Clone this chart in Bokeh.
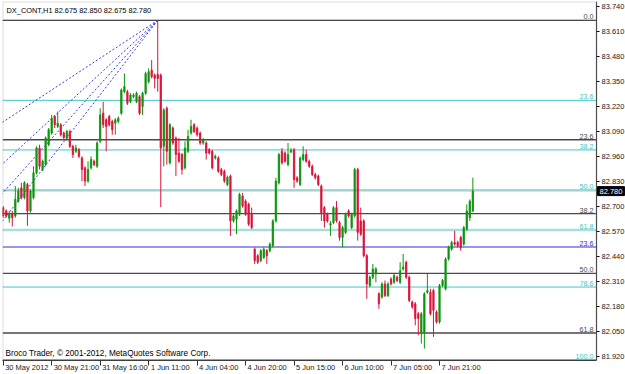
from bokeh.plotting import figure
from bokeh.models import Range1d, FixedTicker, Label, PrintfTickFormatter, BoxAnnotation
from bokeh.embed import file_html
from bokeh.resources import INLINE
from bokeh.core.properties import value

# ---------------- data (H1 candles of DX_CONT) ----------------
opens = [
    82.694, 82.677, 82.639, 82.665, 82.651, 82.728, 82.797, 82.746, 82.814, 82.677,
    82.746, 82.875, 83.004, 82.892, 82.918, 83.021, 83.082, 83.168, 83.116, 83.125,
    83.082, 83.056, 83.090, 83.013, 82.987, 82.995, 82.952, 82.901, 82.832, 82.901,
    82.935, 82.909, 83.039, 83.185, 83.151, 83.168, 83.142, 83.133, 83.142, 83.185,
    83.297, 83.297, 83.245, 83.271, 83.245, 83.271, 83.220, 83.289, 83.349, 83.409,
    83.383, 83.387, 83.383, 83.013, 83.211, 82.927, 83.108, 83.056, 82.978, 82.970,
    82.901, 82.987, 83.082, 83.125, 83.108, 83.082, 83.030, 83.030, 82.995, 82.987,
    82.952, 82.952, 82.892, 82.883, 82.814, 82.858, 82.625, 82.634, 82.659, 82.754,
    82.728, 82.711, 82.659, 82.478, 82.444, 82.418, 82.435, 82.470, 82.470, 82.496,
    82.625, 82.823, 82.987, 82.978, 82.918, 82.983, 82.995, 82.849, 82.814, 82.944,
    82.970, 82.935, 82.909, 82.866, 82.858, 82.806, 82.694, 82.659, 82.604, 82.616,
    82.694, 82.616, 82.539, 82.565, 82.677, 82.590, 82.651, 82.892, 82.625, 82.625,
    82.444, 82.289, 82.332, 82.349, 82.246, 82.229, 82.297, 82.237, 82.323, 82.306,
    82.332, 82.306, 82.375, 82.410, 82.332, 82.203, 82.194, 82.142, 82.039, 82.048,
    82.254, 82.254, 82.263, 82.151, 82.099, 82.289, 82.272, 82.427, 82.478, 82.513,
    82.513, 82.539, 82.504, 82.582, 82.642, 82.675,
]
highs = [
    82.702, 82.685, 82.677, 82.677, 82.806, 82.797, 82.823, 82.832, 82.823, 82.789,
    82.909, 83.013, 83.021, 82.944, 83.064, 83.108, 83.176, 83.176, 83.194, 83.133,
    83.090, 83.099, 83.099, 83.021, 83.021, 83.004, 82.961, 82.909, 82.935, 82.961,
    82.944, 83.039, 83.211, 83.245, 83.159, 83.176, 83.151, 83.159, 83.168, 83.314,
    83.392, 83.306, 83.289, 83.289, 83.297, 83.280, 83.297, 83.401, 83.418, 83.461,
    83.392, 83.668, 83.392, 83.211, 83.220, 83.133, 83.116, 83.064, 83.056, 82.978,
    83.039, 83.099, 83.151, 83.133, 83.116, 83.090, 83.056, 83.039, 83.004, 82.995,
    82.970, 82.961, 82.901, 82.892, 82.861, 82.866, 82.659, 82.685, 82.771, 82.771,
    82.737, 82.720, 82.694, 82.487, 82.453, 82.478, 82.487, 82.478, 82.513, 82.634,
    82.849, 82.978, 83.004, 82.987, 83.030, 83.004, 83.004, 82.858, 82.961, 83.013,
    82.995, 82.944, 82.918, 82.875, 82.866, 82.814, 82.702, 82.668, 82.625, 82.702,
    82.728, 82.625, 82.599, 82.668, 82.685, 82.668, 82.901, 82.901, 82.694, 82.634,
    82.453, 82.341, 82.401, 82.384, 82.254, 82.306, 82.315, 82.306, 82.332, 82.349,
    82.341, 82.410, 82.453, 82.418, 82.341, 82.211, 82.203, 82.151, 82.151, 82.254,
    82.349, 82.272, 82.272, 82.160, 82.297, 82.323, 82.435, 82.496, 82.522, 82.573,
    82.522, 82.547, 82.599, 82.711, 82.737, 82.850,
]
lows = [
    82.642, 82.642, 82.616, 82.596, 82.642, 82.720, 82.737, 82.737, 82.599, 82.668,
    82.737, 82.866, 82.892, 82.883, 82.909, 83.013, 83.073, 83.108, 83.108, 83.064,
    83.047, 83.047, 83.004, 82.952, 82.978, 82.952, 82.832, 82.806, 82.823, 82.892,
    82.909, 82.901, 83.030, 83.108, 82.987, 83.116, 83.073, 83.073, 83.133, 83.176,
    83.289, 83.228, 83.237, 83.263, 83.237, 83.176, 83.176, 83.280, 83.340, 83.366,
    83.314, 83.297, 82.697, 82.909, 82.918, 82.918, 83.021, 82.858, 82.927, 82.866,
    82.892, 82.978, 83.073, 83.082, 83.064, 83.021, 83.021, 82.944, 82.970, 82.892,
    82.944, 82.875, 82.858, 82.823, 82.806, 82.547, 82.616, 82.556, 82.651, 82.694,
    82.651, 82.599, 82.582, 82.401, 82.401, 82.410, 82.427, 82.401, 82.461, 82.487,
    82.616, 82.814, 82.918, 82.927, 82.909, 82.978, 82.797, 82.823, 82.806, 82.935,
    82.927, 82.901, 82.858, 82.840, 82.806, 82.625, 82.590, 82.616, 82.547, 82.608,
    82.616, 82.522, 82.487, 82.556, 82.642, 82.582, 82.642, 82.522, 82.547, 82.435,
    82.220, 82.280, 82.323, 82.306, 82.168, 82.220, 82.229, 82.229, 82.289, 82.297,
    82.306, 82.297, 82.366, 82.323, 82.203, 82.168, 82.082, 82.030, 81.987, 81.961,
    82.246, 82.134, 82.022, 82.091, 82.091, 82.280, 82.263, 82.418, 82.470, 82.496,
    82.487, 82.470, 82.496, 82.573, 82.625, 82.675,
]
closes = [
    82.651, 82.651, 82.663, 82.642, 82.737, 82.780, 82.746, 82.823, 82.677, 82.780,
    82.875, 83.004, 82.909, 82.935, 83.056, 83.099, 83.159, 83.125, 83.133, 83.073,
    83.059, 83.090, 83.013, 82.970, 83.004, 82.961, 82.892, 82.832, 82.892, 82.944,
    82.918, 83.030, 83.176, 83.125, 83.116, 83.125, 83.099, 83.151, 83.159, 83.306,
    83.323, 83.237, 83.280, 83.280, 83.289, 83.185, 83.289, 83.392, 83.401, 83.375,
    83.366, 83.366, 83.004, 83.202, 82.987, 83.125, 83.030, 82.970, 82.935, 82.892,
    83.004, 83.064, 83.116, 83.090, 83.073, 83.030, 83.047, 82.978, 82.978, 82.901,
    82.961, 82.883, 82.866, 82.832, 82.852, 82.625, 82.651, 82.677, 82.763, 82.702,
    82.659, 82.608, 82.590, 82.418, 82.410, 82.470, 82.478, 82.444, 82.504, 82.625,
    82.832, 82.970, 82.927, 82.935, 82.970, 82.990, 82.840, 82.832, 82.952, 82.970,
    82.935, 82.909, 82.866, 82.849, 82.814, 82.668, 82.625, 82.625, 82.611, 82.694,
    82.625, 82.539, 82.590, 82.659, 82.651, 82.659, 82.892, 82.565, 82.556, 82.444,
    82.297, 82.332, 82.375, 82.375, 82.194, 82.297, 82.237, 82.297, 82.297, 82.341,
    82.315, 82.366, 82.384, 82.332, 82.211, 82.177, 82.117, 82.117, 82.142, 82.246,
    82.263, 82.142, 82.160, 82.099, 82.289, 82.315, 82.427, 82.487, 82.513, 82.504,
    82.496, 82.487, 82.590, 82.677, 82.728, 82.780,
]

# time axis (bar index -> text)
time_tick_index = [0, 16, 32, 48, 64, 80, 96, 112, 128, 144]
time_tick_labels = ["30 May 2012", "30 May 21:00", "31 May 16:00", "1 Jun 11:00", "4 Jun 04:00",
                    "4 Jun 20:00", "5 Jun 15:00", "6 Jun 10:00", "7 Jun 05:00", "7 Jun 21:00"]
price_ticks = [83.740, 83.610, 83.480, 83.350, 83.220, 83.090, 82.960, 82.830,
               82.700, 82.570, 82.440, 82.310, 82.180, 82.050, 81.920]

# Fibonacci retracements
fibA_levels = [83.668, 83.252, 82.994, 82.786, 82.578, 82.281, 81.904]
fibA_labels = ["0.0", "23.6", "38.2", "50.0", "61.8", "78.6", "100.0"]
fibB_levels = [83.668, 83.047, 82.663, 82.352, 82.042]
fibB_labels = ["0.0", "23.6", "38.2", "50.0", "61.8"]
fibC_levels = [82.489]
fibC_labels = ["23.6"]

# Fan (dotted) lines: anchor at the spike high, ending at the left edge
fan_anchor_index = 51
fan_anchor_price = 83.668
fan_end_index = -1
fan_end_prices = [83.130, 82.910, 82.755, 82.609]

symbol = "DX_CONT,H1"
copyright_text = "Broco Trader, \u00a9 2001-2012, MetaQuotes Software Corp."

# ---------------- figure ----------------
FONT = "Liberation Sans"
FS = 7.5            # px, axis labels
W, H = 625, 374
PX_PER_BAR = 3.03   # MT4 bar spacing at this zoom
CHART_W = 594       # width of the candle area (price scale sits to its right)
X0 = -0.23
X_AX = X0 + CHART_W / PX_PER_BAR          # bar coordinate of the price scale
X1 = X0 + (W - 2) / PX_PER_BAR            # frame runs under the price scale too
Y0, Y1 = 81.899, 83.766

p = figure(width=W, height=H, x_range=Range1d(X0, X1), y_range=Range1d(Y0, Y1),
           output_backend="svg", toolbar_location=None, y_axis_location="right")
p.min_border = 0
p.min_border_left = 2
p.min_border_top = 1
p.background_fill_color = "#FFFFFF"
p.border_fill_color = "#FFFFFF"
p.outline_line_color = None
p.grid.visible = False

# chart border (left / top) of the candle area
p.add_layout(BoxAnnotation(left=X0, right=X_AX, bottom=Y0, top=Y1, fill_color=None,
                           line_color="#8C8C8C", line_width=2))

ya = p.yaxis[0]
ya.fixed_location = X_AX
ya.ticker = FixedTicker(ticks=price_ticks)
ya.formatter = PrintfTickFormatter(format="%.3f")
ya.axis_line_color = "#303030"
ya.major_tick_out = 3
ya.major_tick_in = 0
ya.minor_tick_line_color = None
ya.major_label_standoff = 2
ya.major_label_text_font = FONT
ya.major_label_text_font_size = "%gpx" % FS
ya.major_label_text_color = "#202020"

# Bottom time scale: MT4 prints each date to the right of its tick mark.
# Tick marks sit on the true bar (minor ticks); the text is centred half its width further right.
ARIAL_W = {" ": .278, ":": .278, "0": .556, "1": .556, "2": .556, "3": .556, "4": .556,
           "5": .556, "6": .556, "7": .556, "8": .556, "9": .556, "M": .833, "a": .556,
           "y": .5, "J": .5, "u": .556, "n": .556}
label_centres = []
for i, t in zip(time_tick_index, time_tick_labels):
    w = sum(ARIAL_W.get(c, .556) for c in t) * FS
    label_centres.append(round(i + (w / 2 + 2) / PX_PER_BAR, 2))

xa = p.xaxis[0]
xa.ticker = FixedTicker(ticks=label_centres, minor_ticks=time_tick_index)
xa.major_label_overrides = {c: t for c, t in zip(label_centres, time_tick_labels)}
xa.bounds = (X0, X_AX)
xa.axis_line_color = "#303030"
xa.major_tick_out = 5
xa.major_tick_in = 0
xa.major_tick_line_color = None
xa.minor_tick_out = 5
xa.minor_tick_in = 0
xa.minor_tick_line_color = "#303030"
xa.major_label_standoff = -3
xa.major_label_text_font = FONT
xa.major_label_text_font_size = "%gpx" % FS
xa.major_label_text_color = "#202020"

# Fibonacci lines (only across the candle area)
TEAL = "#44C6C0"
DARK = "#4A4A4A"
BLUE = "#2E2ED6"

def levels_line(levels, color, width):
    p.segment(x0=[X0] * len(levels), x1=[X_AX] * len(levels), y0=levels, y1=levels,
              line_color=color, line_width=width)

levels_line([closes[-1]], "#D6D6D6", 1.5)    # bid line (under the levels)
levels_line(fibA_levels, TEAL, 1)
levels_line([fibA_levels[4]], "#A6DEDA", 2.5)
levels_line(fibB_levels, DARK, 1.3)
levels_line(fibC_levels, BLUE, 1.1)

# fan lines
p.multi_line(xs=[[fan_anchor_index, fan_end_index] for _ in fan_end_prices],
             ys=[[fan_anchor_price, e] for e in fan_end_prices],
             line_color="#3A3AE0", line_width=1, line_dash="2 2")

# candles
idx = list(range(len(opens)))
up = [i for i in idx if closes[i] >= opens[i]]
dn = [i for i in idx if closes[i] < opens[i]]
GREEN = "#109410"
RED = "#DC143C"
for sel, col in ((up, GREEN), (dn, RED)):
    p.segment(x0=sel, x1=sel, y0=[highs[i] for i in sel], y1=[lows[i] for i in sel],
              line_color=col, line_width=1)
    p.vbar(x=sel, width=0.45, top=[max(opens[i], closes[i]) for i in sel],
           bottom=[min(opens[i], closes[i]) for i in sel],
           fill_color=col, line_color=col, line_width=0.8)

# level labels at right edge of the candle area
def level_labels(levels, labels, color):
    p.text(x=[X_AX] * len(levels), y=levels, text=labels, text_align="right",
           text_baseline="bottom", x_offset=-3, y_offset=-1,
           text_font=value(FONT), text_font_size="7.2px", text_color=color)

level_labels(fibA_levels[1:], fibA_labels[1:], TEAL)
level_labels(fibB_levels, fibB_labels, DARK)
level_labels(fibC_levels, fibC_labels, BLUE)

# header with last bar OHLC
title = "%s  %.3f %.3f %.3f %.3f" % (symbol, opens[-1], highs[-1], lows[-1], closes[-1])
p.add_layout(Label(x=X0, y=Y1, x_offset=4, y_offset=-4, text=title, text_baseline="top",
                   text_font=FONT, text_font_size="7.4px", text_color="#000000"))
p.add_layout(Label(x=X0, y=Y0, x_offset=3, y_offset=3, text=copyright_text, text_baseline="bottom",
                   text_font=FONT, text_font_size="8.2px", text_color="#000000"))

# current price box on the price scale
p.add_layout(Label(x=X_AX, y=closes[-1], x_offset=1, text="%.3f" % closes[-1],
                   text_baseline="middle", text_font=FONT, text_font_size="%gpx" % FS,
                   text_color="#FFFFFF", background_fill_color="#000010",
                   border_line_color="#000010", padding=2))

open("out.html", "w").write(file_html(p, INLINE))
